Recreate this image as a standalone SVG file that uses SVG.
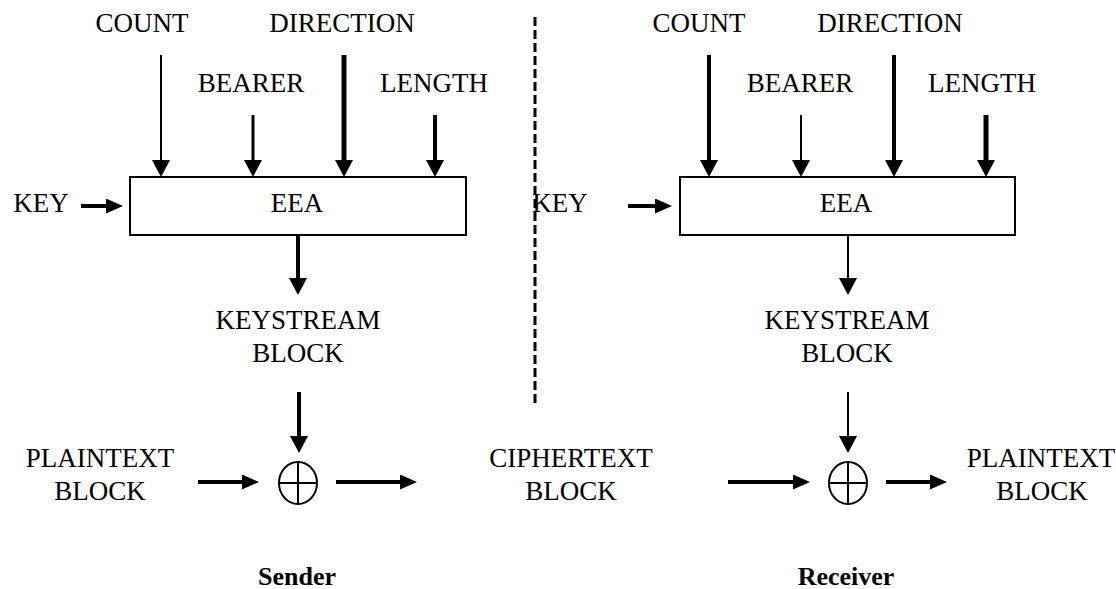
<svg xmlns="http://www.w3.org/2000/svg" width="1116" height="589" viewBox="0 0 1116 589">
<style>
text{font-family:"Liberation Serif","Times New Roman",serif;font-size:27px;fill:#000;text-anchor:middle}
text.cap{font-weight:bold;font-size:26px}
.ln{stroke:#000;fill:none}
.box{fill:#fff;stroke:#000;stroke-width:2}
.xor{fill:none;stroke:#000;stroke-width:2}
</style>
<defs>
<marker id="ah" viewBox="0 0 17 18" refX="0" refY="9" markerWidth="17" markerHeight="18" markerUnits="userSpaceOnUse" orient="auto">
<path d="M0,0 L17,9 L0,18 z" fill="#000"/>
</marker>
<marker id="ahh" viewBox="0 0 17 15" refX="0" refY="7.5" markerWidth="17" markerHeight="15" markerUnits="userSpaceOnUse" orient="auto">
<path d="M0,0 L17,7.5 L0,15 z" fill="#000"/>
</marker>
</defs>
<rect width="1116" height="589" fill="#fff"/>

<g id="sender-inputs">
<text x="142" y="32">COUNT</text>
<text x="342" y="32">DIRECTION</text>
<text x="251" y="92">BEARER</text>
<text x="434" y="92">LENGTH</text>
<text x="41" y="212">KEY</text>
</g>
<g id="sender-eea">
<rect class="box" x="130" y="177" width="336" height="58"/>
<text x="297" y="212">EEA</text>
</g>
<g id="sender-keystream">
<text x="298" y="329">KEYSTREAM</text>
<text x="298" y="362">BLOCK</text>
</g>
<g id="sender-plaintext">
<text x="100" y="467">PLAINTEXT</text>
<text x="100" y="500">BLOCK</text>
</g>
<g id="sender-xor">
<ellipse class="xor" cx="298" cy="483" rx="19" ry="21"/>
<line class="xor" x1="279" y1="483" x2="317" y2="483"/>
<line class="xor" x1="298" y1="462" x2="298" y2="504"/>
</g>
<g id="ciphertext">
<text x="571" y="467">CIPHERTEXT</text>
<text x="571" y="500">BLOCK</text>
</g>
<g id="receiver-inputs">
<text x="699" y="32">COUNT</text>
<text x="890" y="32">DIRECTION</text>
<text x="800" y="92">BEARER</text>
<text x="982" y="92">LENGTH</text>
<text x="560" y="212">KEY</text>
</g>
<g id="receiver-eea">
<rect class="box" x="680" y="177" width="335" height="58"/>
<text x="846" y="212">EEA</text>
</g>
<g id="receiver-keystream">
<text x="847" y="329">KEYSTREAM</text>
<text x="847" y="362">BLOCK</text>
</g>
<g id="receiver-xor">
<ellipse class="xor" cx="848" cy="483" rx="19" ry="21"/>
<line class="xor" x1="829" y1="483" x2="867" y2="483"/>
<line class="xor" x1="848" y1="462" x2="848" y2="504"/>
</g>
<g id="receiver-plaintext">
<text x="1041" y="467">PLAINTEXT</text>
<text x="1042" y="500">BLOCK</text>
</g>
<g id="captions">
<text class="cap" x="297" y="585">Sender</text>
<text class="cap" x="846" y="585">Receiver</text>
</g>

<g id="connectors">
<line class="ln" x1="535" y1="17" x2="535" y2="405" stroke-width="3" stroke-dasharray="9 4"/>
<line class="ln" x1="161" y1="55" x2="161" y2="160" stroke-width="2" marker-end="url(#ah)"/>
<line class="ln" x1="253" y1="115" x2="253" y2="160" stroke-width="3" marker-end="url(#ah)"/>
<line class="ln" x1="344" y1="55" x2="344" y2="160" stroke-width="5" marker-end="url(#ah)"/>
<line class="ln" x1="435" y1="115" x2="435" y2="160" stroke-width="4" marker-end="url(#ah)"/>
<line class="ln" x1="81" y1="206" x2="106" y2="206" stroke-width="4" marker-end="url(#ahh)"/>
<line class="ln" x1="298" y1="235" x2="298" y2="278" stroke-width="4" marker-end="url(#ah)"/>
<line class="ln" x1="299" y1="392" x2="299" y2="436" stroke-width="4" marker-end="url(#ah)"/>
<line class="ln" x1="198" y1="482" x2="242" y2="482" stroke-width="4" marker-end="url(#ahh)"/>
<line class="ln" x1="336" y1="482" x2="400" y2="482" stroke-width="4" marker-end="url(#ahh)"/>
<line class="ln" x1="709" y1="55" x2="709" y2="160" stroke-width="4" marker-end="url(#ah)"/>
<line class="ln" x1="801" y1="115" x2="801" y2="160" stroke-width="2" marker-end="url(#ah)"/>
<line class="ln" x1="894" y1="55" x2="894" y2="160" stroke-width="4" marker-end="url(#ah)"/>
<line class="ln" x1="986" y1="115" x2="986" y2="160" stroke-width="5" marker-end="url(#ah)"/>
<line class="ln" x1="628" y1="206" x2="655" y2="206" stroke-width="4" marker-end="url(#ahh)"/>
<line class="ln" x1="848" y1="235" x2="848" y2="278" stroke-width="2" marker-end="url(#ah)"/>
<line class="ln" x1="848" y1="392" x2="848" y2="436" stroke-width="2" marker-end="url(#ah)"/>
<line class="ln" x1="728" y1="482" x2="793" y2="482" stroke-width="4" marker-end="url(#ahh)"/>
<line class="ln" x1="886" y1="482" x2="930" y2="482" stroke-width="4" marker-end="url(#ahh)"/>
</g>
</svg>
